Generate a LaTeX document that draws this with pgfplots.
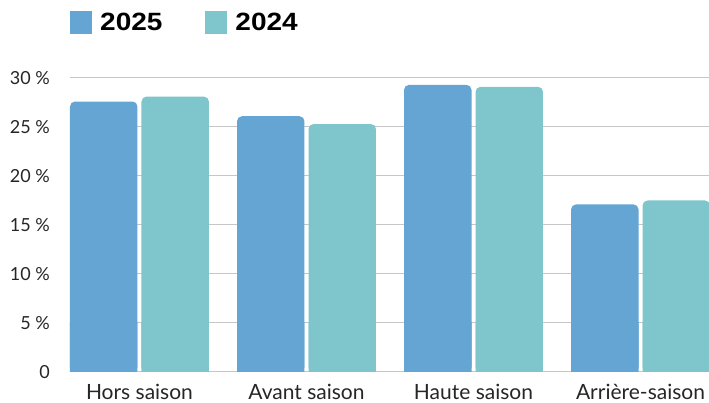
\documentclass[border=0pt]{standalone}
\usepackage{pgfplots}
\pgfplotsset{compat=1.18}
\usepackage{fontspec}
\setmainfont{Lato}
\newfontfamily\legfont{Liberation Sans}
\definecolor{c25}{RGB}{100,165,212}
\definecolor{c24}{RGB}{126,198,204}
\definecolor{gridc}{RGB}{198,198,198}
\begin{document}
\begin{tikzpicture}
\path[use as bounding box] (0,0) rectangle (709pt,403pt);
\begin{axis}[
 at={(70pt,31pt)}, anchor=south west,
 scale only axis, width=639pt, height=294pt,
 xmin=-0.416, xmax=3.41, ymin=0, ymax=30,
 clip=false,
 axis line style={draw=none},
 major tick length=0pt,
 xtick={0,1,2,3},
 xticklabels={Hors saison, Avant saison, Haute saison, Arrière-saison},
 ytick={0,5,...,30},
 yticklabels={0,5 \%,10 \%,15 \%,20 \%,25 \%,30 \%},
 ymajorgrids,
 grid style={gridc, line width=1pt},
 yticklabel style={inner sep=0pt, xshift=-20pt, font=\fontsize{18}{20}\selectfont, text=black!85},
 xticklabel style={inner sep=0pt, yshift=-11.5pt, font=\fontsize{21}{24}\selectfont, text=black!85},
 legend style={draw=none, fill=none, inner sep=0pt, nodes={inner sep=0pt},
   at={(axis description cs:0,1.189)}, anchor=west,
   font=\legfont\bfseries\fontsize{25}{28}\selectfont,
   /tikz/every odd column/.append style={column sep=8pt},
   /tikz/every even column/.append style={column sep=43pt}},
 legend columns=2,
 legend image code/.code={\fill[#1, sharp corners] (0pt,-11.5pt) rectangle (22pt,11.5pt);},
]
\begin{scope}
\clip (axis cs:-1,0) rectangle (axis cs:4,5);
\addplot[ybar, bar width=0.404, bar shift=-0.214, fill=c25, draw=none, forget plot] coordinates {(0,27.6) (1,26.1) (2,29.3) (3,17.1)};
\addplot[ybar, bar width=0.404, bar shift=0.214, fill=c24, draw=none, forget plot] coordinates {(0,28.1) (1,25.3) (2,29.1) (3,17.5)};
\end{scope}
\addplot[ybar, bar width=0.404, bar shift=-0.214, fill=c25, draw=none, rounded corners=5pt] coordinates {(0,27.6) (1,26.1) (2,29.3) (3,17.1)};
\addlegendentry{\scalebox{1.12}[1]{2025}}
\addplot[ybar, bar width=0.404, bar shift=0.214, fill=c24, draw=none, rounded corners=5pt] coordinates {(0,28.1) (1,25.3) (2,29.1) (3,17.5)};
\addlegendentry{\scalebox{1.12}[1]{2024}}
\end{axis}
\end{tikzpicture}
\end{document}
